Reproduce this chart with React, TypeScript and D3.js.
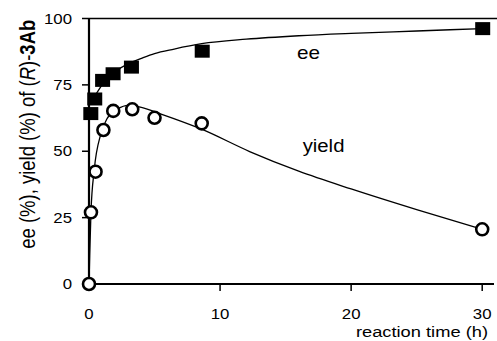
import React from 'react';
import * as d3 from 'd3';

// measured points
const eeTime = [0.1, 0.4, 1.0, 1.8, 3.2, 8.6, 30];
const eeValue = [64, 69.5, 76.5, 79, 81.5, 87.5, 96];

const yieldTime = [0, 0.15, 0.5, 1.1, 1.85, 3.3, 5.0, 8.6, 30];
const yieldValue = [0, 27, 42.3, 58, 65.2, 65.8, 62.6, 60.5, 20.6];

// fitted curves
const eeCurveTime = [0.35, 0.6, 1.0, 1.5, 2.0, 3.0, 4.0, 5.0, 6.5, 8.6, 12, 16, 20, 25, 30];
const eeCurveValue = [70, 72, 75, 78, 80, 83, 85, 86.8, 88.5, 90.5, 92.2, 93.5, 94.4, 95.3, 96.2];

const yieldCurveTime = [0, 0.05, 0.15, 0.4, 0.9, 1.4, 2.2, 3.0, 4.0, 5.5, 8.5, 12.3, 16, 20, 25, 30];
const yieldCurveValue = [0, 10, 27, 43, 56.5, 62.5, 66, 67.3, 66.5, 64, 58.5, 49.8, 42.5, 35.8, 28, 20.6];

const xTicks = [0, 10, 20, 30];
const yTicks = [0, 25, 50, 75, 100];

const W = 497;
const H = 341;
const FONT = '"Liberation Sans", Arial, Helvetica, sans-serif';

// the source figure's lettering is noticeably wide, so stretch it sideways
const Label = ({ x, y, sx = 1.2, size, anchor = 'start', children }: any) => (
  <text transform={`translate(${x},${y}) scale(${sx},1)`} textAnchor={anchor} fontSize={size}>
    {children}
  </text>
);

export default function App() {
  const x = d3.scaleLinear().domain([0, 30.9]).range([89, 494]);
  const y = d3.scaleLinear().domain([0, 100]).range([284, 18.5]);

  const line = d3.line<[number, number]>()
    .x(d => x(d[0]))
    .y(d => y(d[1]))
    .curve(d3.curveMonotoneX);

  const eeCurve = eeCurveTime.map((t, i) => [t, eeCurveValue[i]] as [number, number]);
  const yieldCurve = yieldCurveTime.map((t, i) => [t, yieldCurveValue[i]] as [number, number]);

  const sq = 14;

  return (
    <svg width={W} height={H} style={{ position: 'absolute', left: 0, top: 0, background: '#fff' }}
      fontFamily={FONT}>
      {/* frame */}
      <line x1={x(0)} x2={W} y1={y(100)} y2={y(100)} stroke="#000" strokeWidth={1.5} />
      <line x1={x(0)} x2={x.range()[1]} y1={y(0)} y2={y(0)} stroke="#000" strokeWidth={2.2} />
      <line x1={x(0)} x2={x(0)} y1={y(0)} y2={y(100)} stroke="#000" strokeWidth={2.2} />

      {/* y ticks */}
      {yTicks.map(t => (
        <g key={'y' + t}>
          <line x1={x(0) - 7} x2={x(0)} y1={y(t)} y2={y(t)} stroke="#000" strokeWidth={1.5} />
          <Label x={72} y={y(t) + 5} size={14} anchor="end">{t}</Label>
        </g>
      ))}

      {/* x ticks */}
      {xTicks.map(t => (
        <g key={'x' + t}>
          {t > 0 && <line x1={x(t)} x2={x(t)} y1={y(0)} y2={y(0) + 7} stroke="#000" strokeWidth={1.5} />}
          <Label x={x(t)} y={319} size={14} anchor="middle">{t}</Label>
        </g>
      ))}

      <Label x={488} y={337} size={15} sx={1.22} anchor="end">reaction time (h)</Label>

      <text transform={`translate(27,${y(56.4)}) rotate(-90) scale(1,1.2)`} textAnchor="middle"
        dy="0.35em" fontSize={18.5}>
        ee (%), yield (%) of (<tspan fontStyle="italic">R</tspan>)-<tspan fontWeight="bold">3Ab</tspan>
      </text>

      {/* curves */}
      <path d={line(eeCurve) ?? ''} fill="none" stroke="#000" strokeWidth={1.3} />
      <path d={line(yieldCurve) ?? ''} fill="none" stroke="#000" strokeWidth={1.3} />

      {/* ee squares */}
      {eeTime.map((t, i) => (
        <rect key={'ee' + i} x={x(t) - sq / 2} y={y(eeValue[i]) - sq / 2} width={sq + 1} height={sq - 1} fill="#000" />
      ))}

      {/* yield circles */}
      {yieldTime.map((t, i) => (
        <circle key={'yl' + i} cx={x(t)} cy={y(yieldValue[i])} r={6} fill="#fff" stroke="#000" strokeWidth={2.6} />
      ))}

      <Label x={x(16.75)} y={y(84.7)} size={18} sx={1.15} anchor="middle">ee</Label>
      <Label x={x(16.3)} y={y(49.7)} size={18} sx={1.13}>yield</Label>
    </svg>
  );
}
